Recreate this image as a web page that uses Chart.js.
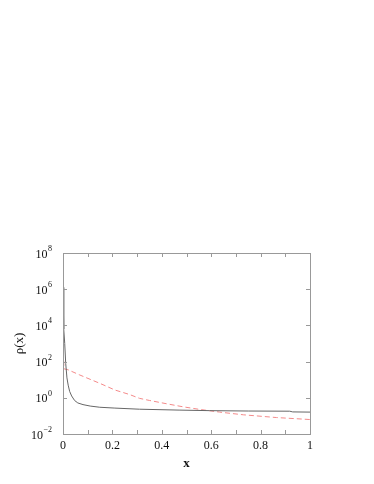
<!DOCTYPE html>
<html>
<head>
<meta charset="utf-8">
<script src="https://cdn.jsdelivr.net/npm/chart.js@4/dist/chart.umd.min.js"></script>
<style>
  html, body { margin: 0; padding: 0; background: #fff; }
  canvas { display: block; }
</style>
</head>
<body>
<canvas id="rhoChart" width="374" height="484"></canvas>
<script>
// Data
const solidX = [0, 0.002, 0.004, 0.007, 0.011, 0.016, 0.021, 0.027, 0.035, 0.047, 0.06, 0.081, 0.11, 0.149, 0.21, 0.31, 0.47, 0.594, 0.75, 0.918, 0.93, 1.0];
const solidY = [1.26e6, 1e5, 6300, 1000, 79, 12.6, 5.0, 2.24, 1.26, 0.71, 0.52, 0.42, 0.35, 0.30, 0.27, 0.234, 0.209, 0.195, 0.186, 0.182, 0.166, 0.162];

const dashedX = [0, 0.004, 0.02, 0.068, 0.149, 0.21, 0.27, 0.31, 0.351, 0.419, 0.487, 0.553, 0.634, 0.73, 0.865, 1.0];
const dashedY = [850, 40, 35.5, 18.2, 6.3, 2.7, 1.51, 0.93, 0.71, 0.47, 0.316, 0.229, 0.162, 0.115, 0.081, 0.063];

// Axis ticks
const xTicks = [0, 0.1, 0.2, 0.3, 0.4, 0.5, 0.6, 0.7, 0.8, 0.9, 1];
const xTickLabels = ['0', '', '0.2', '', '0.4', '', '0.6', '', '0.8', '', '1'];
const yTicks = [1e-2, 1e0, 1e2, 1e4, 1e6, 1e8];
const yTickExponents = ['\u22122', '0', '2', '4', '6', '8'];

const xTitle = 'x';
const yTitle = '\u03c1(x)';

// Colours
const frameColor = '#999';
const solidColor = '#666';
const dashedColor = '#f48a8a';
const textColor = '#111';
const serif = "'Liberation Serif', 'DejaVu Serif', serif";

const toPoints = (xs, ys) => xs.map((x, i) => ({ x: x, y: ys[i] }));

// Frame, inward ticks and labels
const framePlugin = {
    id: 'frame',
    afterDraw(chart) {
        const { ctx, chartArea: a, scales } = chart;
        const xs = scales.x, ys = scales.y;
        const tick = 4;

        ctx.save();
        ctx.strokeStyle = frameColor;
        ctx.lineWidth = 1;
        ctx.strokeRect(Math.round(a.left) + 0.5, Math.round(a.top) + 0.5,
            Math.round(a.right - a.left), Math.round(a.bottom - a.top));

        ctx.beginPath();
        xTicks.forEach(v => {
            const px = Math.round(xs.getPixelForValue(v)) + 0.5;
            ctx.moveTo(px, a.bottom); ctx.lineTo(px, a.bottom - tick);
            ctx.moveTo(px, a.top); ctx.lineTo(px, a.top + tick);
        });
        yTicks.forEach(v => {
            const py = Math.round(ys.getPixelForValue(v)) + 0.5;
            ctx.moveTo(a.left, py); ctx.lineTo(a.left + tick, py);
            ctx.moveTo(a.right, py); ctx.lineTo(a.right - tick, py);
        });
        ctx.stroke();

        ctx.fillStyle = textColor;

        // x tick labels
        ctx.font = '12px ' + serif;
        ctx.textAlign = 'center';
        ctx.textBaseline = 'alphabetic';
        xTicks.forEach((v, i) => {
            if (!xTickLabels[i]) return;
            ctx.fillText(xTickLabels[i], xs.getPixelForValue(v), a.bottom + 15);
        });

        // y tick labels: 10 with superscript exponent
        const labelRight = a.left - 11;
        yTicks.forEach((v, i) => {
            const py = ys.getPixelForValue(v);
            ctx.font = '8px ' + serif;
            const ew = ctx.measureText(yTickExponents[i]).width;
            ctx.textAlign = 'right';
            ctx.fillText(yTickExponents[i], labelRight, py - 2);
            ctx.font = '12px ' + serif;
            ctx.fillText('10', labelRight - ew - 0.5, py + 4.5);
        });

        // axis titles
        ctx.font = 'bold 13px ' + serif;
        ctx.textAlign = 'center';
        ctx.fillText(xTitle, (a.left + a.right) / 2, a.bottom + 33);

        ctx.save();
        ctx.translate(a.left - 43, (a.top + a.bottom) / 2);
        ctx.rotate(-Math.PI / 2);
        ctx.font = '13px ' + serif;
        ctx.textBaseline = 'middle';
        ctx.fillText(yTitle, 0, 0);
        ctx.restore();

        ctx.restore();
    }
};

const ctx = document.getElementById('rhoChart').getContext('2d');

const chart = new Chart(ctx, {
    type: 'line',
    data: {
        datasets: [
            {
                label: 'solid',
                data: toPoints(solidX, solidY),
                borderColor: solidColor,
                borderWidth: 1,
                pointRadius: 0,
                tension: 0,
                fill: false
            },
            {
                label: 'dashed',
                data: toPoints(dashedX, dashedY),
                borderColor: dashedColor,
                borderWidth: 1,
                borderDash: [5, 3],
                pointRadius: 0,
                tension: 0,
                fill: false
            }
        ]
    },
    options: {
        responsive: false,
        animation: false,
        layout: {
            padding: { left: 63, top: 253, right: 64, bottom: 50 }
        },
        scales: {
            x: {
                type: 'linear',
                min: 0,
                max: 1,
                display: false
            },
            y: {
                type: 'logarithmic',
                min: 1e-2,
                max: 1e8,
                display: false
            }
        },
        plugins: {
            legend: { display: false },
            tooltip: { enabled: false }
        }
    },
    plugins: [framePlugin]
});
</script>
</body>
</html>
